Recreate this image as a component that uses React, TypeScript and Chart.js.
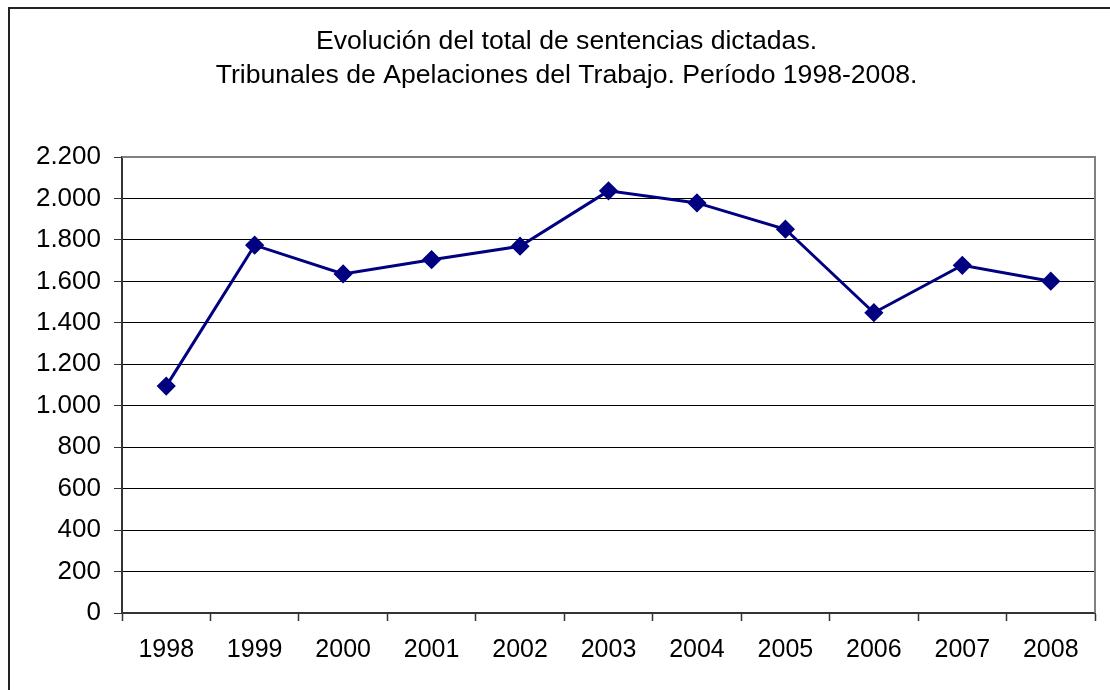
import React, { useEffect, useRef } from "react";
import { Chart, registerables } from "chart.js";

Chart.register(...registerables);

const years = ["1998", "1999", "2000", "2001", "2002", "2003", "2004", "2005", "2006", "2007", "2008"];
const sentencias = [1095, 1775, 1636, 1705, 1770, 2037, 1979, 1852, 1449, 1678, 1601];
const titleLines = [
  "Evolución del total de sentencias dictadas.",
  "Tribunales de Apelaciones del Trabajo. Período 1998-2008.",
];

const FONT = "'Liberation Sans', Arial, sans-serif";

const fmt = (v: number) => {
  const s = Math.round(v).toString();
  return s.replace(/\B(?=(\d{3})+(?!\d))/g, ".");
};

const plotBorder = {
  id: "plotBorder",
  beforeDatasetsDraw(chart: any) {
    const { ctx, chartArea } = chart;
    ctx.save();
    ctx.strokeStyle = "#808080";
    ctx.lineWidth = 2;
    ctx.beginPath();
    ctx.moveTo(chartArea.left, chartArea.top);
    ctx.lineTo(chartArea.right, chartArea.top);
    ctx.lineTo(chartArea.right, chartArea.bottom);
    ctx.stroke();
    ctx.restore();
  },
};

export default function App() {
  const ref = useRef<HTMLCanvasElement>(null);
  useEffect(() => {
    if (!ref.current) return;
    const chart = new Chart(ref.current, {
      type: "line",
      data: {
        labels: years,
        datasets: [
          {
            data: sentencias,
            borderColor: "#000080",
            backgroundColor: "#000080",
            borderWidth: 3,
            pointStyle: "rectRot",
            pointRadius: 7.5,
            pointHoverRadius: 7.5,
            tension: 0,
          },
        ],
      },
      plugins: [plotBorder],
      options: {
        responsive: false,
        animation: false,
        layout: { padding: { left: 0, right: 0, top: 0, bottom: 11 } },
        plugins: {
          legend: { display: false },
          tooltip: { enabled: false },
          title: {
            display: true,
            text: titleLines,
            color: "#000",
            font: { family: FONT, size: 26.6, weight: "normal", lineHeight: 1.28 },
            padding: { top: 16, bottom: 64 },
          },
        },
        scales: {
          x: {
            offset: true,
            grid: {
              offset: true,
              drawOnChartArea: false,
              drawTicks: true,
              tickLength: 8,
              tickColor: "#333",
              tickWidth: 1.5,
            },
            border: { color: "#333", width: 2 },
            ticks: {
              color: "#000",
              font: { family: FONT, size: 25 },
              padding: 14,
              maxRotation: 0,
              autoSkip: false,
            },
          },
          y: {
            min: 0,
            max: 2200,
            afterFit(scale: any) {
              scale.width = 112;
            },
            grid: {
              color: "#000",
              lineWidth: 1,
              drawTicks: true,
              tickLength: 8,
              tickColor: "#333",
            },
            border: { color: "#333", width: 2 },
            ticks: {
              stepSize: 200,
              color: "#000",
              font: { family: FONT, size: 26 },
              padding: 13,
              callback: (v: any) => fmt(Number(v)),
            },
          },
          yRight: {
            position: "right",
            min: 0,
            max: 2200,
            afterFit(scale: any) {
              scale.width = 28;
            },
            grid: { display: false },
            border: { display: false },
            ticks: { display: false },
          },
        },
      },
    });
    return () => chart.destroy();
  }, []);

  return (
    <div
      style={{
        position: "fixed",
        left: 8,
        top: 7,
        width: 1125,
        height: 700,
        borderLeft: "2px solid #222",
        borderTop: "2px solid #222",
        boxSizing: "border-box",
        background: "#fff",
      }}
    >
      <canvas ref={ref} width={1113} height={681} style={{ display: "block" }} />
    </div>
  );
}
